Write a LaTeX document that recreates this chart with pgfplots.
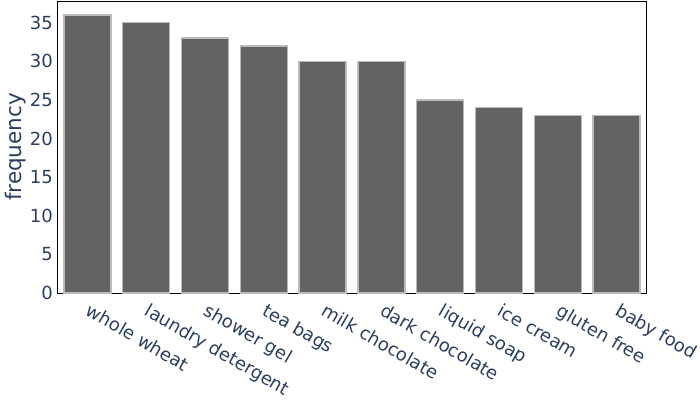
\documentclass[border=0pt]{standalone}
\usepackage{pgfplots}
\pgfplotsset{compat=1.18}
\usepackage{fontspec}
\setmainfont{DejaVu Sans}
\definecolor{plotlytext}{HTML}{2A3F5F}
\definecolor{barfill}{HTML}{636363}
\definecolor{baredge}{HTML}{BBBBBB}
\begin{document}
\begin{tikzpicture}[x=1pt,y=1pt]
\begin{axis}[
  at={(0,0)}, anchor=south west,
  scale only axis,
  width=588pt, height=292pt,
  xmin=-0.5, xmax=9.5,
  ymin=0, ymax=37.8,
  axis line style={black, line width=1pt},
  major tick length=0pt,
  xtick={0,...,9},
  xticklabels={whole wheat, laundry detergent, shower gel, tea bags, milk chocolate, dark chocolate, liquid soap, ice cream, gluten free, baby food},
  ytick={0,5,...,35},
  /pgf/number format/assume math mode=true,
  tick label style={font=\fontsize{18}{20}\selectfont, text=plotlytext},
  xticklabel style={rotate=-30, anchor=north west, inner sep=0pt, yshift=-6pt, xshift=8.5pt},
  yticklabel style={inner sep=0pt, xshift=-5pt},
  ylabel={frequency},
  ylabel style={font=\fontsize{21.5}{24}\selectfont, text=plotlytext},
  ylabel shift=0pt,
]
\addplot[ybar, bar width=0.8, fill=barfill, draw=baredge, line width=1.5pt, bar shift=0pt]
  coordinates {(0,36) (1,35) (2,33) (3,32) (4,30) (5,30) (6,25) (7,24) (8,23) (9,23)};
\end{axis}
\pgfresetboundingbox
\path (-58pt,-107pt) rectangle (642pt,293pt);
\end{tikzpicture}
\end{document}
